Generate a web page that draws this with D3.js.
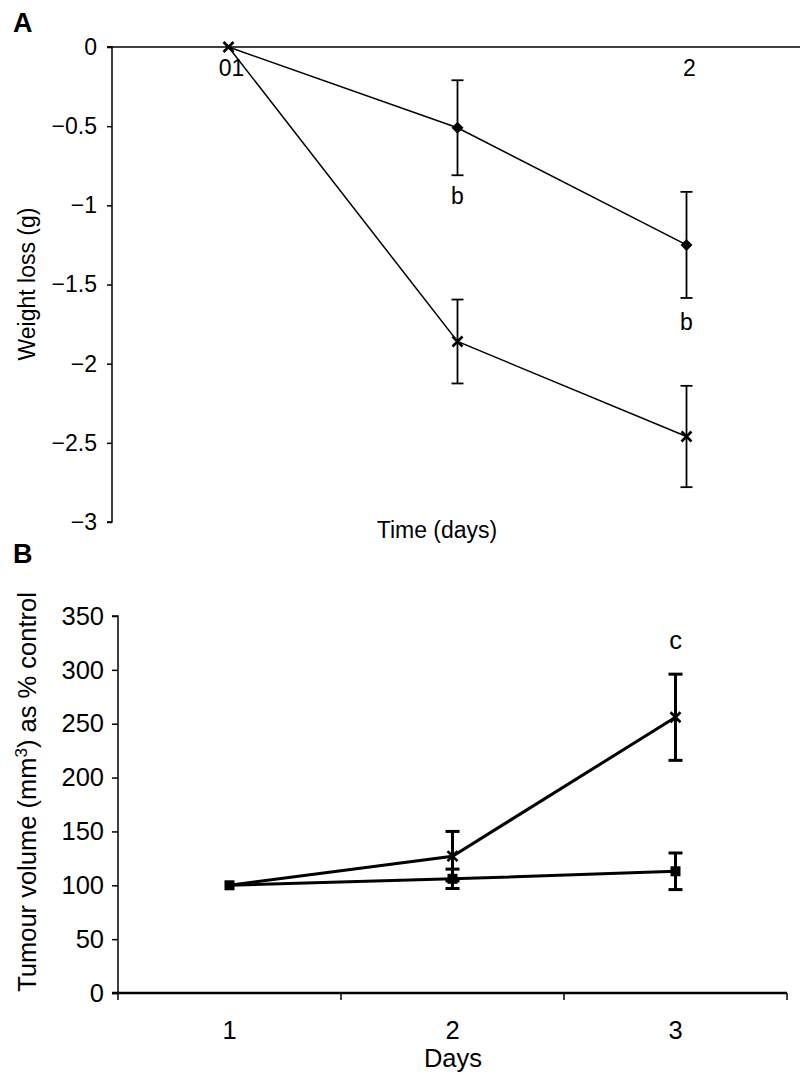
<!DOCTYPE html>
<html><head><meta charset="utf-8">
<script src="https://cdn.jsdelivr.net/npm/d3@7"></script>
<style>body{margin:0;background:#fff}svg text{font-family:"Liberation Sans",Arial,sans-serif;fill:#000}</style>
</head><body><svg id="c" width="802" height="1074"></svg>
<script>
// Panel A data
const daysA = ["0", "1", "2"];
const tickLabelsA = ["01", "", "2"];
const diamondA = [0, -0.51, -1.25];
const diamondErrA = [0, 0.30, 0.335];
const crossA = [0, -1.86, -2.46];
const crossErrA = [0, 0.265, 0.32];
const yTicksA = [0, -0.5, -1, -1.5, -2, -2.5, -3];
const sigA = [{day: "1", y: -0.99, t: "b"}, {day: "2", y: -1.79, t: "b"}];

// Panel B data
const daysB = ["1", "2", "3"];
const crossB = [100, 127, 256];
const crossErrB = [0, 23, 40];
const squareB = [100, 106, 113];
const squareErrB = [0, 9, 17];
const yTicksB = [0, 50, 100, 150, 200, 250, 300, 350];
const sigB = [{day: "3", y: 328, t: "c"}];

const FA = 23, FB = 25.5;
const svg = d3.select("#c");
const fmt = d => d < 0 ? "\u2212" + Math.abs(d) : String(d);

// ---------- Panel A ----------
const xA = d3.scaleBand().domain(daysA).range([114, 801]);
const cA = d => xA(d) + xA.bandwidth() / 2;
const yA = d3.scaleLinear().domain([-3, 0]).range([522, 47]);
const gA = svg.append("g");

gA.append("g").attr("transform", "translate(112,0)")
  .call(d3.axisLeft(yA).tickValues(yTicksA).tickSize(5).tickFormat(fmt))
  .call(g => { g.select(".domain").attr("stroke", "#000").attr("stroke-width", 1.5).attr("d", "M-5,522H0V47H-5");
    g.selectAll(".tick line").attr("stroke", "#000").attr("stroke-width", 1.5);
    g.selectAll(".tick text").attr("x", -15).attr("font-size", FA).style("font-family", "Liberation Sans, Arial, sans-serif"); });

gA.append("line").attr("x1", 107).attr("x2", 800).attr("y1", yA(0)).attr("y2", yA(0))
  .attr("stroke", "#000").attr("stroke-width", 1.5);

gA.selectAll(".xla").data(daysA).enter().append("text")
  .attr("x", d => cA(d) + 3).attr("y", 76).attr("text-anchor", "middle").attr("font-size", FA)
  .text((d, i) => tickLabelsA[i]);

const lineA = d3.line().x((v, i) => cA(daysA[i])).y(v => yA(v));
function errBars(g, xs, vals, errs, y, cap, sw) {
  vals.forEach((v, i) => {
    if (!errs[i]) return;
    const x = xs[i], y1 = y(v + errs[i]), y2 = y(v - errs[i]);
    g.append("line").attr("x1", x).attr("x2", x).attr("y1", y1).attr("y2", y2).attr("stroke", "#000").attr("stroke-width", sw);
    [y1, y2].forEach(yy => g.append("line").attr("x1", x - cap).attr("x2", x + cap).attr("y1", yy).attr("y2", yy).attr("stroke", "#000").attr("stroke-width", sw));
  });
}
function cross(g, x, y, s, sw) {
  g.append("path").attr("d", `M${x-s},${y-s}L${x+s},${y+s}M${x-s},${y+s}L${x+s},${y-s}`).attr("stroke", "#000").attr("stroke-width", sw).attr("fill", "none");
}
const xsA = daysA.map(cA);
errBars(gA, xsA, diamondA, diamondErrA, yA, 6, 1.8);
errBars(gA, xsA, crossA, crossErrA, yA, 6, 1.8);
gA.append("path").attr("d", lineA(diamondA)).attr("fill", "none").attr("stroke", "#000").attr("stroke-width", 1.5);
gA.append("path").attr("d", lineA(crossA)).attr("fill", "none").attr("stroke", "#000").attr("stroke-width", 1.5);
diamondA.forEach((v, i) => { if (i === 0) return;
  gA.append("path").attr("d", "M0,-6L6,0L0,6L-6,0Z").attr("transform", `translate(${xsA[i]},${yA(v)})`).attr("fill", "#000"); });
crossA.forEach((v, i) => cross(gA, xsA[i], yA(v), 5, 2.6));
sigA.forEach(s => gA.append("text").attr("x", cA(s.day)).attr("y", yA(s.y)).attr("text-anchor", "middle").attr("font-size", FA).text(s.t));

gA.append("text").attr("x", 437).attr("y", 538).attr("text-anchor", "middle").attr("font-size", FA).text("Time (days)");
gA.append("text").attr("transform", "translate(35,284) rotate(-90)").attr("text-anchor", "middle").attr("font-size", FA).text("Weight loss (g)");
gA.append("text").attr("x", 13).attr("y", 32).attr("font-size", 27).attr("font-weight", "bold").text("A");

// ---------- Panel B ----------
const xB = d3.scaleBand().domain(daysB).range([118, 787]);
const cB = d => xB(d) + xB.bandwidth() / 2;
const yB = d3.scaleLinear().domain([0, 350]).range([993, 616]);
const gB = svg.append("g");

gB.append("g").attr("transform", "translate(118,0)")
  .call(d3.axisLeft(yB).tickValues(yTicksB).tickSize(6))
  .call(g => { g.select(".domain").attr("stroke", "#000").attr("stroke-width", 1.5).attr("d", "M-6,616H0V993");
    g.selectAll(".tick line").attr("stroke", "#000").attr("stroke-width", 1.5);
    g.selectAll(".tick text").attr("x", -14).attr("font-size", FB).style("font-family", "Liberation Sans, Arial, sans-serif"); });

gB.append("g").attr("transform", "translate(0,993)")
  .call(d3.axisBottom(xB).tickSize(0).tickPadding(28))
  .call(g => { g.select(".domain").attr("stroke", "#000").attr("stroke-width", 2.5).attr("d", "M112,0H787");
    g.selectAll(".tick text").attr("font-size", FB).style("font-family", "Liberation Sans, Arial, sans-serif"); });
const bounds = [...daysB.map(d => xB(d)), xB(daysB[2]) + xB.bandwidth()];
bounds.forEach(b => gB.append("line").attr("x1", b).attr("x2", b).attr("y1", 993).attr("y2", 1000).attr("stroke", "#000").attr("stroke-width", 1.5));

const xsB = daysB.map(cB);
const lineB = d3.line().x((v, i) => xsB[i]).y(v => yB(v));
errBars(gB, xsB, squareB, squareErrB, yB, 7, 3);
errBars(gB, xsB, crossB, crossErrB, yB, 7, 3);
gB.append("path").attr("d", lineB(squareB)).attr("fill", "none").attr("stroke", "#000").attr("stroke-width", 3);
gB.append("path").attr("d", lineB(crossB)).attr("fill", "none").attr("stroke", "#000").attr("stroke-width", 3);
squareB.forEach((v, i) => gB.append("rect").attr("x", xsB[i] - 5).attr("y", yB(v) - 5).attr("width", 10).attr("height", 10).attr("fill", "#000"));
crossB.forEach((v, i) => { if (i === 0) return; cross(gB, xsB[i], yB(v), 5, 2.6); });
sigB.forEach(s => gB.append("text").attr("x", cB(s.day)).attr("y", yB(s.y) + 9).attr("text-anchor", "middle").attr("font-size", FB).text(s.t));

gB.append("text").attr("x", 453).attr("y", 1067).attr("text-anchor", "middle").attr("font-size", FB).text("Days");
const yl = gB.append("text").attr("transform", "translate(36,792) rotate(-90)").attr("text-anchor", "middle").attr("font-size", FB);
yl.append("tspan").text("Tumour volume (mm");
yl.append("tspan").attr("dy", -9).attr("font-size", 17).text("3");
yl.append("tspan").attr("dy", 9).text(") as % control");
gB.append("text").attr("x", 13).attr("y", 563).attr("font-size", 27).attr("font-weight", "bold").text("B");
</script></body></html>
